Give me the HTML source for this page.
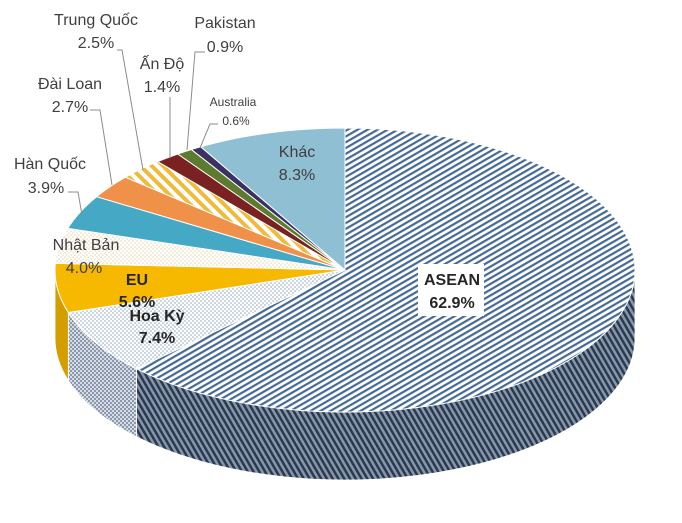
<!DOCTYPE html>
<html><head><meta charset="utf-8"><style>
html,body{margin:0;padding:0;background:#fff;}
svg{display:block;font-family:"Liberation Sans","DejaVu Sans",sans-serif;}
</style></head><body>
<svg id="s" width="682" height="523" viewBox="0 0 682 523" xmlns="http://www.w3.org/2000/svg">
<defs>
<pattern id="pA" width="5" height="5" patternUnits="userSpaceOnUse" patternTransform="rotate(-30)">
<rect width="5" height="5" fill="#fff"/><rect width="5" height="2.2" fill="#466a96"/></pattern>
<pattern id="pAs" width="5" height="5" patternUnits="userSpaceOnUse" patternTransform="rotate(60)">
<rect width="5" height="5" fill="#8a96a4"/><rect width="5" height="2.5" fill="#273a55"/></pattern>
<pattern id="pH" width="4" height="4" patternUnits="userSpaceOnUse">
<rect width="4" height="4" fill="#fff"/><circle cx="1" cy="1" r="0.8" fill="#8ea4c0"/><circle cx="3" cy="3" r="0.8" fill="#8ea4c0"/></pattern>
<pattern id="pHs" width="4" height="4" patternUnits="userSpaceOnUse">
<rect width="4" height="4" fill="#d8dce2"/><circle cx="1" cy="1" r="1" fill="#6e84a0"/><circle cx="3" cy="3" r="1" fill="#6e84a0"/></pattern>
<pattern id="pN" width="4" height="4" patternUnits="userSpaceOnUse">
<rect width="4" height="4" fill="#fff"/><circle cx="1" cy="1" r="0.8" fill="#e6d7b0"/><circle cx="3" cy="3" r="0.8" fill="#e6d7b0"/></pattern>
<pattern id="pT" width="8" height="8" patternUnits="userSpaceOnUse" patternTransform="rotate(45)">
<rect width="8" height="8" fill="#fff"/><rect width="8" height="4" fill="#efbb3a"/></pattern>
</defs>
<g id="pie"></g>
<g fill="none" stroke="#8c8c8c" stroke-width="1">
<polyline points="117,50 122,50 143,170"/>
<polyline points="90,110 100,110 112,185"/>
<polyline points="68,192 78,192 82,215"/>
<polyline points="170,97 170,158"/>
<polyline points="205,52 195,52 187,150"/>
<polyline points="218,124 210,124 200,148"/>
</g>
<g fill="#404040" font-size="16" text-anchor="middle">
<text x="96" y="25">Trung Quốc</text><text x="96" y="48">2.5%</text>
<text x="225" y="28">Pakistan</text><text x="225" y="52">0.9%</text>
<text x="162" y="69">Ấn Độ</text><text x="162" y="92">1.4%</text>
<text x="233" y="106" font-size="12">Australia</text><text x="236" y="125" font-size="12">0.6%</text>
<text x="70" y="89">Đài Loan</text><text x="70" y="112">2.7%</text>
<text x="50" y="169">Hàn Quốc</text><text x="46" y="193">3.9%</text>
<text x="86" y="250">Nhật Bản</text><text x="84" y="273">4.0%</text>
<text x="297" y="157">Khác</text><text x="297" y="180">8.3%</text>
</g>
<rect x="418" y="264" width="66" height="52" fill="#fff"/>
<g fill="#262626" font-size="16" font-weight="bold" text-anchor="middle">
<text x="452" y="285">ASEAN</text><text x="452" y="308">62.9%</text>
<text x="137" y="285">EU</text><text x="137" y="307">5.6%</text>
<text x="157" y="321">Hoa Kỳ</text><text x="157" y="343">7.4%</text>
</g>
</svg>
<script>
var cx=345,cy=270,rx=290,ry=142,D=68;
var data=[[62.9,"url(#pA)","url(#pAs)"],[7.4,"url(#pH)","url(#pHs)"],[5.6,"#f7b800","#d49e00"],[4.0,"url(#pN)","#e0d0a8"],[3.9,"#45a8c4","#2f7f98"],[2.7,"#f0914a","#c06a2c"],[2.5,"url(#pT)","#c99020"],[1.4,"#7a2222","#561515"],[0.9,"#5c7b2f","#3f5820"],[0.6,"#3b3162","#28204a"],[8.3,"#8fbfd3","#6a9fb5"]];
function P(a,dy){var r=a*Math.PI/180;return (cx+rx*Math.cos(r)).toFixed(2)+","+(cy+ry*Math.sin(r)+(dy||0)).toFixed(2);}
var tot=100.2,a=-90,sl=[];
data.forEach(function(d){var s=d[0]/tot*360;sl.push([a,a+s,d[1],d[2]]);a+=s;});
var g=document.getElementById("pie"),h="";
sl.forEach(function(s){var b1=Math.max(s[0],0),b2=Math.min(s[1],180);if(b2>b1){
h+='<path d="M'+P(b1)+' A'+rx+' '+ry+' 0 0 1 '+P(b2)+' L'+P(b2,D)+' A'+rx+' '+ry+' 0 0 0 '+P(b1,D)+' Z" fill="'+s[3]+'" stroke="#fff" stroke-width="0.8"/>';}});
sl.forEach(function(s){var lg=(s[1]-s[0])>180?1:0;
h+='<path d="M'+cx+','+cy+' L'+P(s[0])+' A'+rx+' '+ry+' 0 '+lg+' 1 '+P(s[1])+' Z" fill="'+s[2]+'" stroke="#fff" stroke-width="1"/>';});
g.innerHTML=h;
</script>
</body></html>
